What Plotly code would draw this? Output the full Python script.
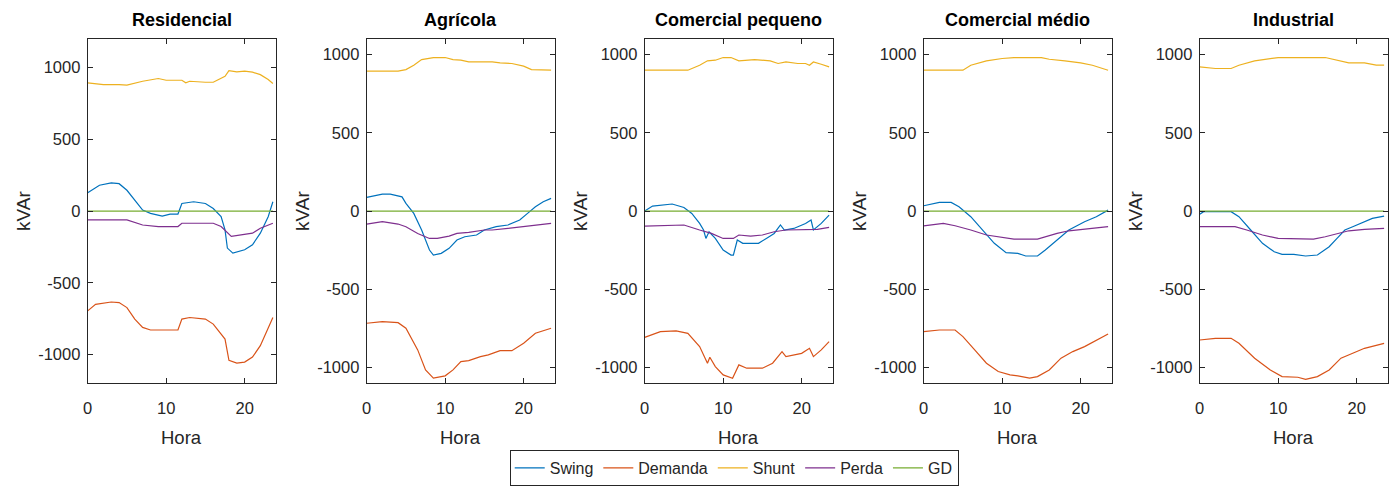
import plotly.graph_objects as go

# ---------------- data ----------------
PANELS = ["Residencial", "Agrícola", "Comercial pequeno", "Comercial médio", "Industrial"]
SERIES = ["Swing", "Demanda", "Shunt", "Perda", "GD"]
COLORS = ["#0072BD", "#D95319", "#EDB120", "#7E2F8E", "#77AC30"]

# Residencial
res_swing_t = [0, 1.5, 3, 4, 5, 6, 7, 8, 9, 9.5, 10.5, 11.5, 12, 13.5, 15, 16, 17, 17.5, 17.8, 18.5, 20, 21, 22, 23, 23.6]
res_swing = [127, 180, 196, 191, 145, 76, 7, -16, -28, -35, -21, -21, 53, 65, 53, 18, -39, -131, -258, -293, -270, -235, -154, -39, 65]
res_dem_t = [0, 1, 3, 4, 5, 6, 7, 8, 11.5, 12, 13, 15, 16, 17.5, 18, 19, 20, 21, 22, 23, 23.6]
res_dem = [-696, -650, -634, -638, -673, -753, -811, -829, -829, -753, -742, -753, -788, -892, -1041, -1060, -1053, -1018, -938, -823, -742]
res_shunt_t = [0, 2, 4, 5, 7, 8, 9, 10, 11, 12, 12.5, 13, 15, 16, 17.5, 18, 19, 20, 21, 22, 23, 23.6]
res_shunt = [894, 882, 882, 878, 905, 917, 924, 912, 912, 912, 894, 905, 898, 898, 940, 979, 970, 975, 968, 951, 917, 889]
res_perda_t = [0, 5, 7, 9, 11.5, 12, 16, 17, 18.3, 19.5, 21, 22, 23.6]
res_perda = [-62, -62, -97, -108, -108, -85, -85, -108, -177, -166, -154, -120, -85]
res_gd_t = [0, 23.6]
res_gd = [0, 0]

# Agrícola
agr_swing_t = [0, 2, 3, 4.5, 5, 6, 7, 8, 8.5, 9.5, 10.5, 11.5, 12.5, 14, 15, 16.5, 18, 19.5, 20.5, 21.5, 22.5, 23.5]
agr_swing = [87, 108, 108, 91, 49, -15, -121, -249, -281, -270, -238, -185, -164, -153, -121, -100, -89, -57, -15, 28, 60, 81]
agr_dem_t = [0, 2, 4, 5, 6.5, 7.5, 8.5, 10, 11, 12, 13, 14.5, 15.5, 17, 18.5, 20, 21.5, 23.5]
agr_dem = [-717, -706, -713, -749, -887, -1015, -1068, -1053, -1015, -962, -956, -930, -919, -892, -892, -845, -781, -749]
agr_shunt_t = [0, 4, 5, 6, 7, 8.5, 10, 11, 12, 13, 16, 17, 18.5, 20, 21, 23.5]
agr_shunt = [894, 894, 904, 932, 968, 981, 981, 968, 964, 953, 953, 947, 943, 926, 904, 900]
agr_perda_t = [0, 2, 4, 5, 6.5, 8, 9, 10.5, 11.5, 13, 15, 16, 18, 20, 22, 23.5]
agr_perda = [-83, -68, -83, -100, -143, -175, -175, -160, -143, -136, -121, -121, -111, -100, -89, -79]
agr_gd_t = [0, 23.5]
agr_gd = [0, 0]

# Comercial pequeno
cp_swing_t = [0, 1, 3.5, 5, 6, 7, 7.5, 7.8, 8.2, 9, 10, 11, 11.3, 11.8, 12.5, 14.5, 15.5, 16.5, 17.3, 17.8, 19, 20.5, 21.2, 21.5, 22.5, 23.5]
cp_swing = [0, 32, 45, 23, -15, -79, -121, -175, -132, -175, -249, -281, -281, -185, -206, -206, -175, -143, -89, -121, -111, -79, -57, -121, -79, -26]
cp_dem_t = [0, 2, 4, 5.5, 7, 7.5, 8, 8.3, 9, 10, 11.2, 12, 13, 15, 16.3, 17.5, 18, 20, 21, 21.5, 22.5, 23.5]
cp_dem = [-807, -770, -766, -781, -866, -919, -972, -934, -994, -1047, -1068, -983, -1004, -1004, -972, -898, -930, -909, -877, -930, -887, -834]
cp_shunt_t = [0, 5.5, 7, 8, 9, 10, 11, 12, 14, 16, 17, 18, 19.5, 20.5, 21, 21.5, 22.5, 23.5]
cp_shunt = [900, 900, 932, 960, 964, 981, 981, 960, 968, 960, 943, 953, 943, 943, 932, 953, 938, 921]
cp_perda_t = [0, 5, 7, 8.5, 10, 11.3, 12, 13.5, 15, 16.5, 18, 20, 22, 23.5]
cp_perda = [-96, -89, -121, -143, -175, -175, -153, -160, -153, -132, -121, -121, -117, -104]
cp_gd_t = [0, 23.5]
cp_gd = [0, 0]

# Comercial médio
cm_swing_t = [0, 2, 3.5, 4.5, 6, 7.5, 9, 10.5, 12, 13, 14.5, 15.5, 17, 18.5, 20.5, 22, 23.5]
cm_swing = [34, 55, 55, 28, -36, -121, -206, -266, -270, -287, -287, -249, -185, -121, -68, -36, 6]
cm_dem_t = [0, 2, 4, 5, 6.5, 8, 9.5, 11, 12, 13.5, 14.5, 16, 17.5, 19, 20.5, 22, 23.5]
cm_dem = [-770, -760, -760, -802, -887, -972, -1025, -1047, -1053, -1068, -1058, -1015, -940, -898, -866, -824, -785]
cm_shunt_t = [0, 5, 6, 8, 10, 11.5, 15, 16, 18, 20, 21.5, 23.5]
cm_shunt = [900, 900, 932, 960, 975, 981, 981, 970, 960, 947, 932, 900]
cm_perda_t = [0, 2.5, 4, 6, 8, 10, 11.5, 14.5, 15.5, 17, 18.5, 20.5, 23.5]
cm_perda = [-94, -79, -94, -121, -153, -168, -179, -179, -164, -143, -126, -117, -100]
cm_gd_t = [0, 23.5]
cm_gd = [0, 0]

# Industrial
ind_swing_t = [0, 0.5, 4, 5, 6.5, 8, 9.5, 10.5, 12, 13.5, 15, 16.5, 17.5, 18.5, 19.5, 21, 22, 23.5]
ind_swing = [-21, -4, -4, -36, -121, -206, -260, -277, -277, -287, -281, -228, -175, -121, -100, -68, -47, -32]
ind_dem_t = [0, 2, 4, 5, 7, 9, 10.5, 12.5, 13.5, 15, 16.5, 18, 19.5, 21, 23.5]
ind_dem = [-824, -813, -813, -845, -940, -1015, -1058, -1062, -1075, -1058, -1015, -940, -909, -877, -845]
ind_shunt_t = [0, 2, 4, 5, 7, 9, 10, 16, 17.5, 19, 21, 22.5, 23.5]
ind_shunt = [921, 911, 911, 932, 960, 975, 981, 981, 964, 947, 947, 932, 932]
ind_perda_t = [0, 4.5, 6, 8, 10, 14.5, 16, 17.5, 19, 21, 23.5]
ind_perda = [-100, -100, -121, -153, -175, -179, -164, -143, -126, -117, -111]
ind_gd_t = [0, 23.5]
ind_gd = [0, 0]

X_TICKS = [0, 10, 20]
Y_TICKS = [-1000, -500, 0, 500, 1000]
Y_TICK_LABELS = ["-1000", "-500", "0", "500", "1000"]
Y_RANGES = [[-1200, 1200], [-1100, 1100], [-1100, 1100], [-1100, 1100], [-1100, 1100]]

panel_data = [
    [(res_swing_t, res_swing), (res_dem_t, res_dem), (res_shunt_t, res_shunt), (res_perda_t, res_perda), (res_gd_t, res_gd)],
    [(agr_swing_t, agr_swing), (agr_dem_t, agr_dem), (agr_shunt_t, agr_shunt), (agr_perda_t, agr_perda), (agr_gd_t, agr_gd)],
    [(cp_swing_t, cp_swing), (cp_dem_t, cp_dem), (cp_shunt_t, cp_shunt), (cp_perda_t, cp_perda), (cp_gd_t, cp_gd)],
    [(cm_swing_t, cm_swing), (cm_dem_t, cm_dem), (cm_shunt_t, cm_shunt), (cm_perda_t, cm_perda), (cm_gd_t, cm_gd)],
    [(ind_swing_t, ind_swing), (ind_dem_t, ind_dem), (ind_shunt_t, ind_shunt), (ind_perda_t, ind_perda), (ind_gd_t, ind_gd)],
]

# ---------------- layout ----------------
W, H = 1394, 486
PX_LEFT = [83, 363, 642, 922, 1199]
PX_WIDTH = 189
PX_TOP, PX_BOTTOM = 39, 384
AX_COLOR = "#262626"
FONT = "Liberation Sans, Arial, Helvetica, sans-serif"

fig = go.Figure()
layout = dict(
    width=W, height=H, margin=dict(l=0, r=0, t=0, b=0),
    paper_bgcolor="white", plot_bgcolor="white",
    font=dict(family=FONT, color=AX_COLOR, size=16),
    showlegend=True,
    legend=dict(orientation="h", x=0.525, xanchor="center", y=1 - 451 / H, yanchor="top",
                bordercolor=AX_COLOR, borderwidth=1, font=dict(size=16, color=AX_COLOR),
                bgcolor="white", tracegroupgap=0),
)
annotations = []
for i, name in enumerate(PANELS):
    n = "" if i == 0 else str(i + 1)
    x0 = PX_LEFT[i] / W
    x1 = (PX_LEFT[i] + PX_WIDTH) / W
    axis_common = dict(showline=True, linecolor=AX_COLOR, linewidth=1, mirror="ticks",
                       ticks="inside", ticklen=5, tickwidth=1, tickcolor=AX_COLOR,
                       showgrid=False, zeroline=False, tickfont=dict(size=16.5, color=AX_COLOR))
    layout["xaxis" + n] = dict(domain=[x0, x1], range=[0, 24], tickvals=X_TICKS,
                               anchor="y" + n, ticklabelstandoff=10, **axis_common)
    layout["yaxis" + n] = dict(domain=[1 - PX_BOTTOM / H, 1 - PX_TOP / H], range=Y_RANGES[i],
                               tickvals=Y_TICKS, ticktext=Y_TICK_LABELS, anchor="x" + n,
                               ticklabelstandoff=3, **axis_common)
    for j, (t, v) in enumerate(panel_data[i]):
        fig.add_trace(go.Scatter(x=t, y=v, mode="lines", name=SERIES[j],
                                 line=dict(color=COLORS[j], width=1.2),
                                 legendgroup=SERIES[j], showlegend=(i == 0),
                                 xaxis="x" + n, yaxis="y" + n))
    cx = (x0 + x1) / 2
    annotations.append(dict(text="<b>" + name + "</b>", x=cx, y=1 - 20 / H, xref="paper", yref="paper",
                            showarrow=False, font=dict(size=18, color="black", family=FONT),
                            xanchor="center", yanchor="middle"))
    annotations.append(dict(text="Hora", x=cx, y=1 - 438 / H, xref="paper", yref="paper",
                            showarrow=False, font=dict(size=18.5, color=AX_COLOR, family=FONT),
                            xanchor="center", yanchor="middle"))
    annotations.append(dict(text="kVAr", x=(PX_LEFT[i] - 65) / W, y=1 - ((PX_TOP + PX_BOTTOM) / 2) / H,
                            xref="paper", yref="paper", textangle=-90,
                            showarrow=False, font=dict(size=19, color=AX_COLOR, family=FONT),
                            xanchor="center", yanchor="middle"))
layout["annotations"] = annotations
fig.update_layout(**layout)
fig.write_html("out.html")
